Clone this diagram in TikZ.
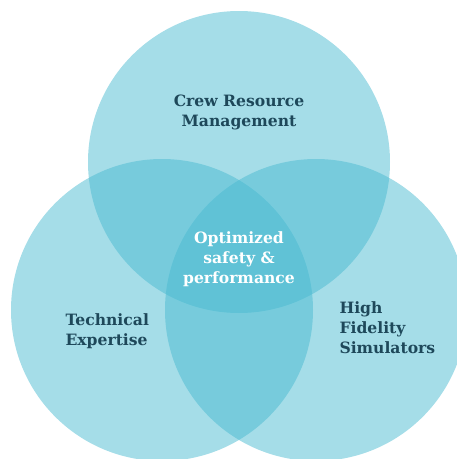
\documentclass[tikz,border=0pt]{standalone}
\usepackage{fontspec}
\newfontfamily\slabfont{DejaVu Serif}
\usepackage{tikz}
\usetikzlibrary{positioning}
\definecolor{vennblue}{RGB}{71,185,208}
\definecolor{labelink}{RGB}{30,72,90}
\tikzset{venn/.style={circle,fill=vennblue,fill opacity=0.49,minimum size=302pt,inner sep=0pt}}
\tikzset{lbl/.style={text=labelink,font=\slabfont\bfseries\fontsize{15.6}{20}\selectfont}}
\begin{document}
\begin{tikzpicture}[x=1pt,y=-1pt]
    \useasboundingbox (0,0) rectangle (457,459);
    \clip (0,0) rectangle (457,459);
    \node[venn] (crm)  at (239,162) {};
    \node[venn] (tech) at (162,310) {};
    \node[venn] (sim)  at (316,310) {};
    \node[lbl,align=center] (crmtext) at (239,112) {Crew Resource\\Management};
    \node[lbl,align=left,anchor=west] (techtext) at (62,331) {Technical\\Expertise};
    \node[lbl,align=left,anchor=west] (simtext) at (336,328) {High\\Fidelity\\Simulators};
    \node[lbl,align=center,text=white] (core) at (239,259) {Optimized\\safety \&\\performance};
\end{tikzpicture}
\end{document}
